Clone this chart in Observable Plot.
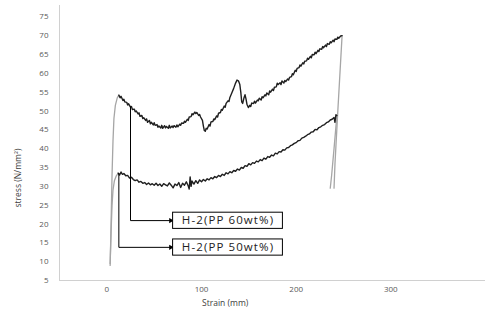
<!DOCTYPE html>
<html>
<head>
<meta charset="utf-8">
<script src="https://cdn.jsdelivr.net/npm/d3@7"></script>
<script src="https://cdn.jsdelivr.net/npm/@observablehq/plot@0.6"></script>
<style>
  html, body { margin: 0; padding: 0; background: #fff; }
  svg { display: block; }
</style>
</head>
<body>
<div id="chart"></div>
<script>
// ---- Data ----
const xTicks = [0, 100, 200, 300];
const yTicks = [5, 10, 15, 20, 25, 30, 35, 40, 45, 50, 55, 60, 65, 70, 75];
const xTitle = "Strain (mm)";
const yTitle = "stress (N/mm\u00b2)";

// PP 60wt%: initial rise (grey), body (black), final drop (grey)
const pp60Rise = [[3.5, 9], [4.5, 20], [5.5, 33], [6.5, 42], [7.5, 48], [9, 51.5], [11, 53.5], [12.7, 54.2]];
const pp60Body = [
  [12.7, 54.2], [14, 53.5], [15, 53.9], [17, 52.8], [18, 53.1], [19, 52.4], [21, 52.3], [22, 51.6], [23, 51.9],
  [25, 51.0], [26, 51.2], [27, 50.4], [29, 50.5], [30, 49.8], [31, 50.0], [33, 49.2], [34, 49.5], [35, 48.6],
  [37, 48.8], [38, 48.0], [39, 48.2], [41, 47.5], [42, 47.9], [43, 47.0], [45, 47.5], [46, 46.6], [47, 47.0],
  [49, 46.3], [50, 46.9], [51, 46.2], [53, 46.4], [54, 45.7], [55, 46.0], [57, 45.5], [58, 46.2], [59, 45.4],
  [61, 46.1], [62, 45.5], [63, 45.9], [65, 45.4], [66, 46.2], [67, 45.5], [69, 46.0], [70, 45.6], [71, 46.1],
  [73, 45.7], [74, 46.3], [75, 45.8], [77, 46.5], [78, 46.2], [79, 46.8], [81, 46.7], [82, 47.3], [83, 47.0],
  [85, 47.8], [86, 47.5], [87, 48.4], [89, 48.5], [90, 49.3], [91, 49.0], [93, 49.7], [94, 49.3], [95, 49.6],
  [97, 48.8], [98, 49.1], [99, 48.4], [101, 47.5], [102, 46.0], [103, 44.8], [104, 44.6], [105, 45.4],
  [106, 45.2], [108, 46.4], [109, 46.0], [110, 47.1], [112, 47.2], [113, 47.9], [114, 47.7], [116, 48.7],
  [117, 48.4], [118, 49.4], [120, 49.6], [121, 50.4], [122, 50.2], [124, 51.3], [125, 51.0], [126, 52.0],
  [128, 52.7], [129, 52.5], [130, 53.6], [132, 54.8], [134, 56.0], [136, 57.4], [137.5, 58.2], [139, 58.0],
  [140.5, 57.0], [141.5, 55.0], [142.5, 52.4], [143.5, 52.0], [145, 53.6], [146, 54.3], [147, 53.2],
  [148, 51.8], [149.5, 50.9], [151, 51.5], [152, 51.2], [153, 52.1], [155, 52.0], [156, 52.6], [157, 52.1],
  [159, 52.9], [160, 52.7], [161, 53.4], [163, 52.9], [164, 53.8], [165, 53.5], [167, 54.3], [168, 54.0],
  [169, 54.8], [171, 54.3], [172, 55.3], [173, 55.0], [175, 55.8], [176, 55.4], [177, 56.3], [179, 56.4],
  [180, 57.4], [181, 57.0], [183, 57.5], [184, 57.0], [185, 58.0], [187, 57.4], [188, 58.1], [189, 57.8],
  [191, 58.5], [192, 58.2], [193, 58.9], [195, 59.1], [196, 59.9], [197, 59.6], [199, 60.8], [200, 60.5],
  [201, 61.3], [203, 61.5], [204, 62.2], [205, 61.9], [207, 62.8], [208, 62.5], [209, 63.2], [211, 63.3],
  [212, 64.0], [213, 63.7], [215, 64.5], [216, 64.1], [217, 65.0], [219, 64.9], [220, 65.6], [221, 65.2],
  [223, 66.1], [224, 65.8], [225, 66.5], [227, 66.4], [228, 67.1], [229, 66.8], [231, 67.5], [232, 67.1],
  [233, 67.9], [235, 67.7], [236, 68.4], [237, 68.1], [239, 68.8], [240, 68.4], [241, 69.1], [243, 69.0],
  [244, 69.6], [245, 69.3], [247, 69.9], [248.5, 70.0]
];
const pp60Drop = [[248.5, 70.0], [244, 50], [241, 36], [240, 29.5]];

// PP 50wt%
const pp50Rise = [[3.5, 9.5], [4.5, 18], [5.5, 25], [6.5, 29], [8, 31.5], [10, 32.8], [12, 33.5]];
const pp50Body = [
  [12, 33.5], [13.5, 33.0], [15, 33.8], [16.5, 33.2], [18, 33.4], [20, 32.8], [22, 32.9], [24, 32.2], [26, 32.4],
  [28, 31.8], [30, 31.5], [32, 31.7], [34, 31.1], [36, 31.3], [38, 30.8], [40, 31.0], [42, 30.5], [44, 30.9],
  [46, 30.4], [48, 30.7], [50, 30.3], [52, 30.8], [54, 30.2], [56, 30.6], [58, 30.0], [60, 30.7], [62, 30.4],
  [64, 30.1], [66, 30.9], [68, 30.3], [70, 29.6], [72, 30.6], [74, 30.2], [76, 31.0], [78, 29.7], [80, 30.8],
  [82, 30.3], [84, 31.2], [86, 30.1], [87, 29.3], [88, 32.5], [89, 30.0], [90, 31.4], [92, 30.6], [94, 31.5],
  [96, 30.8], [98, 31.7], [100, 31.2], [102, 31.8], [104, 31.4], [106, 32.0], [108, 31.7], [110, 32.3],
  [112, 32.0], [114, 32.6], [116, 32.3], [118, 32.9], [120, 32.6], [122, 33.2], [124, 32.9], [126, 33.6],
  [128, 33.3], [130, 33.9], [132, 33.6], [134, 34.2], [136, 34.0], [138, 34.6], [140, 34.3], [142, 35.0],
  [144, 34.8], [146, 35.5], [148, 35.3], [150, 36.0], [152, 35.7], [154, 36.3], [156, 36.1], [158, 36.7],
  [160, 36.5], [162, 37.1], [164, 36.8], [166, 37.5], [168, 37.2], [170, 37.9], [172, 37.7], [174, 38.3],
  [176, 38.1], [178, 38.8], [180, 38.6], [182, 39.2], [184, 39.1], [186, 39.7], [188, 39.6], [190, 40.2],
  [192, 40.3], [194, 40.8], [196, 41.0], [198, 41.4], [200, 41.6], [202, 42.1], [204, 42.2], [206, 42.8],
  [208, 43.0], [210, 43.3], [212, 43.7], [214, 43.9], [216, 44.4], [218, 44.5], [220, 45.1], [222, 45.0],
  [224, 45.6], [226, 45.8], [228, 46.2], [230, 46.4], [232, 46.9], [234, 47.1], [236, 47.6], [238, 47.8],
  [240, 48.3], [241, 47.0], [242, 49.0], [243, 48.8]
];
const pp50Drop = [[243, 48.8], [240, 40], [237.5, 33], [236, 29.5]];

// Annotation labels, leader anchors (data units)
const labelTexts = ["H-2(PP 60wt%)", "H-2(PP 50wt%)"];
const leaderX = [25, 12.7];       // strain where the leader leaves the curve
const leaderTopY = [51.1, 33.4];  // stress on curve
const labelY = [20.9, 13.8];      // stress at label centre line
const boxX1 = [70, 70];
const boxX2 = [186, 186];
const boxY1 = [18.7, 11.6];
const boxY2 = [23.0, 15.9];

// ---- Build tables ----
const toPts = (arr) => arr.map(([x, y]) => ({x, y}));
const leaders = labelTexts.flatMap((t, i) => [
  {k: i, x: leaderX[i], y: leaderTopY[i]},
  {k: i, x: leaderX[i], y: labelY[i]},
  {k: i, x: boxX1[i] - 2.5, y: labelY[i]}
]);
const heads = labelTexts.map((t, i) => ({x: boxX1[i] - 2.5, y: labelY[i]}));
const boxes = labelTexts.map((t, i) => ({t, x1: boxX1[i], x2: boxX2[i], y1: boxY1[i], y2: boxY2[i], xm: (boxX1[i] + boxX2[i]) / 2, ym: labelY[i]}));

const grey = "#a6a6a6";
const ink = "#1f1f1f";

const chart = Plot.plot({
  width: 489,
  height: 310,
  marginLeft: 59,
  marginRight: 4,
  marginTop: 5,
  marginBottom: 30,
  style: {fontFamily: "'Open Sans', sans-serif", color: "#595959", background: "#fff"},
  x: {domain: [-50, 400]},
  y: {domain: [5, 78]},
  marks: [
    Plot.ruleX([-50], {stroke: "#d0d0d0", strokeWidth: 1}),
    Plot.ruleY([5], {stroke: "#d0d0d0", strokeWidth: 1}),
    Plot.axisX(xTicks, {tickSize: 0, tickPadding: 6, fontSize: 8, fill: "#595959", label: null}),
    Plot.axisY(yTicks, {tickSize: 0, tickPadding: 11, fontSize: 8, fill: "#595959", label: null}),
    Plot.text([xTitle], {x: 125, frameAnchor: "bottom", dy: 25, fontSize: 8.5, fill: "#404040"}),
    Plot.text([yTitle], {y: 32.2, frameAnchor: "left", dx: -41, rotate: -90, textAnchor: "middle", fontSize: 8.5, fill: "#404040"}),
    // curves
    Plot.line(toPts(pp60Rise), {x: "x", y: "y", stroke: grey, strokeWidth: 1.3}),
    Plot.line(toPts(pp60Drop), {x: "x", y: "y", stroke: grey, strokeWidth: 1.3}),
    Plot.line(toPts(pp50Rise), {x: "x", y: "y", stroke: grey, strokeWidth: 1.3}),
    Plot.line(toPts(pp50Drop), {x: "x", y: "y", stroke: grey, strokeWidth: 1.3}),
    Plot.line(toPts(pp60Body), {x: "x", y: "y", stroke: ink, strokeWidth: 1.4}),
    Plot.line(toPts(pp50Body), {x: "x", y: "y", stroke: ink, strokeWidth: 1.4}),
    // annotations
    Plot.line(leaders, {x: "x", y: "y", z: "k", stroke: "#000", strokeWidth: 1}),
    Plot.dot(heads, {x: "x", y: "y", symbol: "triangle2", r: 2.6, fill: "#000", rotate: 90}),
    Plot.rect(boxes, {x1: "x1", x2: "x2", y1: "y1", y2: "y2", fill: "#fff", stroke: "#000", strokeWidth: 1}),
    Plot.text(boxes, {x: "xm", y: "ym", text: "t", fontSize: 11.5, fill: "#222", fontFamily: "'Open Sans', sans-serif"})
  ]
});
// widen the annotation label spacing to match the reference
d3.select(chart).selectAll("text").filter(function() { return labelTexts.includes(this.textContent); })
  .style("letter-spacing", "1.1px");
document.getElementById("chart").appendChild(chart);
</script>
</body>
</html>
